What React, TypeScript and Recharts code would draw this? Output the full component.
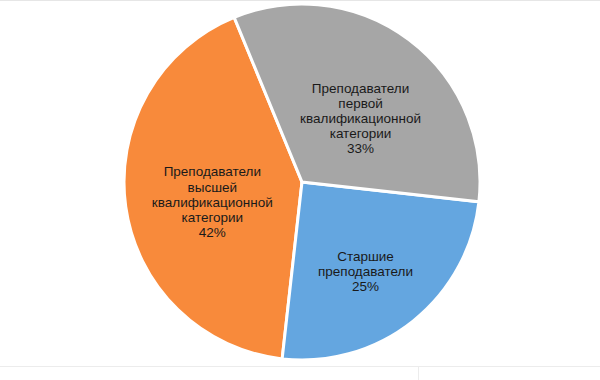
import { PieChart, Pie, Cell } from "recharts";

// order follows the pie counter-clockwise from the top-left boundary
const categories = [
  "Преподаватели\nвысшей\nквалификационной\nкатегории",
  "Старшие\nпреподаватели",
  "Преподаватели\nпервой\nквалификационной\nкатегории",
];
const shares = [42, 25, 33];
const COLORS = ["#F88A3B", "#64A6E0", "#A6A6A6"];

const data = categories.map((name, i) => ({ name, value: shares[i] }));

const RAD = Math.PI / 180;
const LABEL_R = [0.52, 0.59, 0.5];
const LABEL_DX = [2, -2, 5];

function renderLabel(props: any) {
  const { cx, cy, midAngle, outerRadius, index, name, value } = props;
  const r = outerRadius * LABEL_R[index];
  const x = cx + r * Math.cos(-midAngle * RAD) + LABEL_DX[index];
  const y = cy + r * Math.sin(-midAngle * RAD) + 7;
  const lines = [...String(name).split("\n"), `${value}%`];
  const lh = 15.2;
  const top = y - ((lines.length - 1) * lh) / 2;
  return (
    <text
      x={x}
      y={top}
      textAnchor="middle"
      dominantBaseline="central"
      fill="#1a1a1a"
      fontSize={13.5}
      fontFamily="'Liberation Sans', Arial, sans-serif"
    >
      {lines.map((l, i) => (
        <tspan key={i} x={x} y={top + i * lh}>
          {l}
        </tspan>
      ))}
    </text>
  );
}

export default function App() {
  return (
    <div style={{ position: "absolute", left: 0, top: 0, width: 600, height: 380, background: "#fff" }}>
      <div style={{ position: "absolute", left: 0, top: 0, width: 600, height: 1, background: "#e6e6e6" }} />
      <div style={{ position: "absolute", left: 0, top: 366, width: 600, height: 1, background: "#ececec" }} />
      <div style={{ position: "absolute", left: 418, top: 366, width: 1, height: 14, background: "#ececec" }} />
      <PieChart
        width={600}
        height={380}
        margin={{ top: 0, right: 0, bottom: 0, left: 0 }}
        style={{ position: "absolute", left: 0, top: 0 }}
      >
        <Pie
          data={data}
          dataKey="value"
          nameKey="name"
          cx={302}
          cy={182}
          outerRadius={178}
          startAngle={112.4}
          endAngle={472.4}
          stroke="#ffffff"
          strokeWidth={3}
          labelLine={false}
          label={renderLabel}
          isAnimationActive={false}
        >
          {data.map((_, i) => (
            <Cell key={i} fill={COLORS[i]} />
          ))}
        </Pie>
      </PieChart>
    </div>
  );
}
